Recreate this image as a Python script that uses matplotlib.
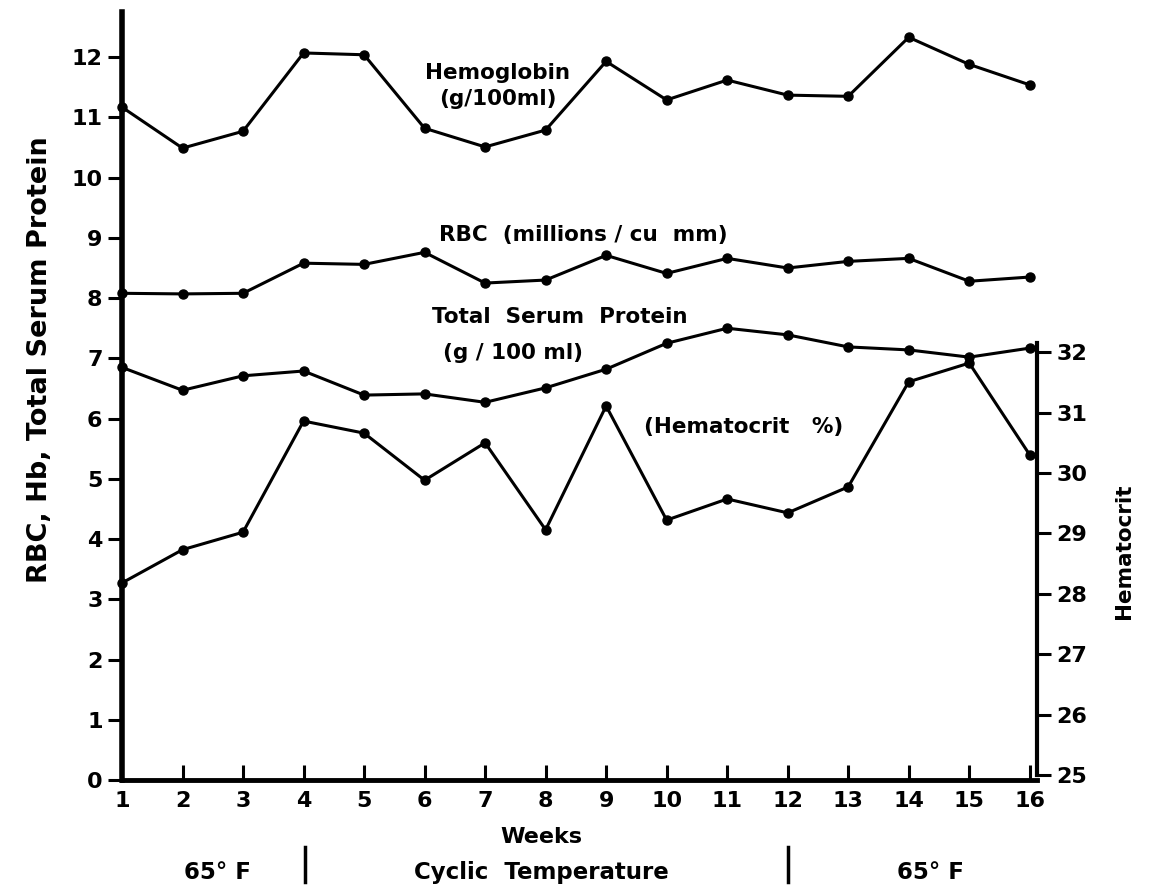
import matplotlib
matplotlib.use("Agg")
import matplotlib.pyplot as plt
from matplotlib.lines import Line2D

weeks = list(range(1, 17))
hemoglobin = [11.17, 10.49, 10.77, 12.07, 12.04, 10.82, 10.51, 10.79,
              11.93, 11.29, 11.62, 11.37, 11.35, 12.33, 11.88, 11.54]
rbc = [8.08, 8.07, 8.08, 8.58, 8.56, 8.76, 8.25, 8.30,
       8.71, 8.41, 8.66, 8.50, 8.61, 8.66, 8.28, 8.35]
protein = [6.85, 6.47, 6.71, 6.79, 6.39, 6.41, 6.27, 6.51,
           6.82, 7.25, 7.50, 7.39, 7.19, 7.14, 7.02, 7.17]
hematocrit = [28.18, 28.73, 29.02, 30.86, 30.66, 29.88, 30.50, 29.06,
              31.11, 29.22, 29.57, 29.34, 29.77, 31.51, 31.82, 30.30]
left_ticks = list(range(0, 13))
right_ticks = list(range(25, 33))
period_labels = ["65° F", "Cyclic  Temperature", "65° F"]
period_centers = [2.57, 7.93, 14.36]
period_bounds = [4.02, 12.0]

plt.rcParams['font.family'] = ['DejaVu Sans']
plt.rcParams['font.weight'] = 'bold'

W, H = 1151, 891
fig = plt.figure(figsize=(W / 100, H / 100), dpi=100)
ax = fig.add_axes([122 / W, 1 - 780 / H, (1037 - 122) / W, (780 - 12) / H])
ax.set_xlim(1, 16.12)
ax.set_ylim(0, 12.75)

line_kw = dict(color='black', lw=2.2, marker='o', ms=6.5, clip_on=False, zorder=5)
ax.plot(weeks, hemoglobin, **line_kw)
ax.plot(weeks, rbc, **line_kw)
ax.plot(weeks, protein, **line_kw)

ax2 = ax.twinx()
lo = 25 - 5 / 60.4
ax2.set_ylim(lo, lo + 768 / 60.4)
ax2.plot(weeks, hematocrit, **line_kw)

ax.spines['top'].set_visible(False)
ax2.spines['top'].set_visible(False)
ax.spines['right'].set_visible(False)
ax2.spines['left'].set_visible(False)
ax2.spines['bottom'].set_visible(False)
ax.spines['left'].set_linewidth(4.0)
ax.spines['bottom'].set_linewidth(3.5)
ax2.spines['right'].set_linewidth(3.0)
ax2.spines['right'].set_bounds(25, 32.15)

tick_fs = 16
ax.set_yticks(left_ticks)
ax.set_yticklabels([str(t) for t in left_ticks], fontsize=tick_fs, fontweight='bold')
ax.tick_params(axis='y', direction='out', length=10, width=2.2, pad=4)
ax.set_xticks(weeks)
ax.set_xticklabels([str(w) for w in weeks], fontsize=tick_fs, fontweight='bold')
ax.tick_params(axis='x', direction='in', length=11, width=2.2, pad=8)
ax2.set_yticks(right_ticks)
ax2.set_yticklabels([str(t) for t in right_ticks], fontsize=tick_fs, fontweight='bold')
ax2.tick_params(axis='y', direction='out', length=10, width=2.2, pad=4)

ax.set_ylabel("RBC, Hb, Total Serum Protein", fontsize=19.5, fontweight='bold')
ax.yaxis.set_label_coords(-0.075, 0.547)
ax2.set_ylabel("Hematocrit", fontsize=15.5, fontweight='bold')
ax2.yaxis.set_label_coords(1.084, 0.298)

txt_kw = dict(fontsize=15.5, fontweight='bold', ha='center', va='center')
ax.text(7.21, 11.52, "Hemoglobin\n(g/100ml)", linespacing=1.4, **txt_kw)
ax.text(8.62, 9.05, "RBC  (millions / cu  mm)", **txt_kw)
ax.text(8.24, 7.68, "Total  Serum  Protein", **txt_kw)
ax.text(7.46, 7.09, "(g / 100 ml)", **txt_kw)
ax.text(11.28, 5.86, "(Hematocrit   %)", **txt_kw)

xtr = ax.get_xaxis_transform()
ax.text(7.93, -0.074, "Weeks", transform=xtr, fontsize=16, fontweight='bold',
        ha='center', va='center')
for c, lab in zip(period_centers, period_labels):
    ax.text(c, -0.12, lab, transform=xtr, fontsize=16.5, fontweight='bold',
            ha='center', va='center')
for b in period_bounds:
    ax.add_line(Line2D([b, b], [-0.087, -0.133], transform=xtr, color='black',
                       lw=2.5, clip_on=False))

fig.savefig("out.png", dpi=100, facecolor='white')
